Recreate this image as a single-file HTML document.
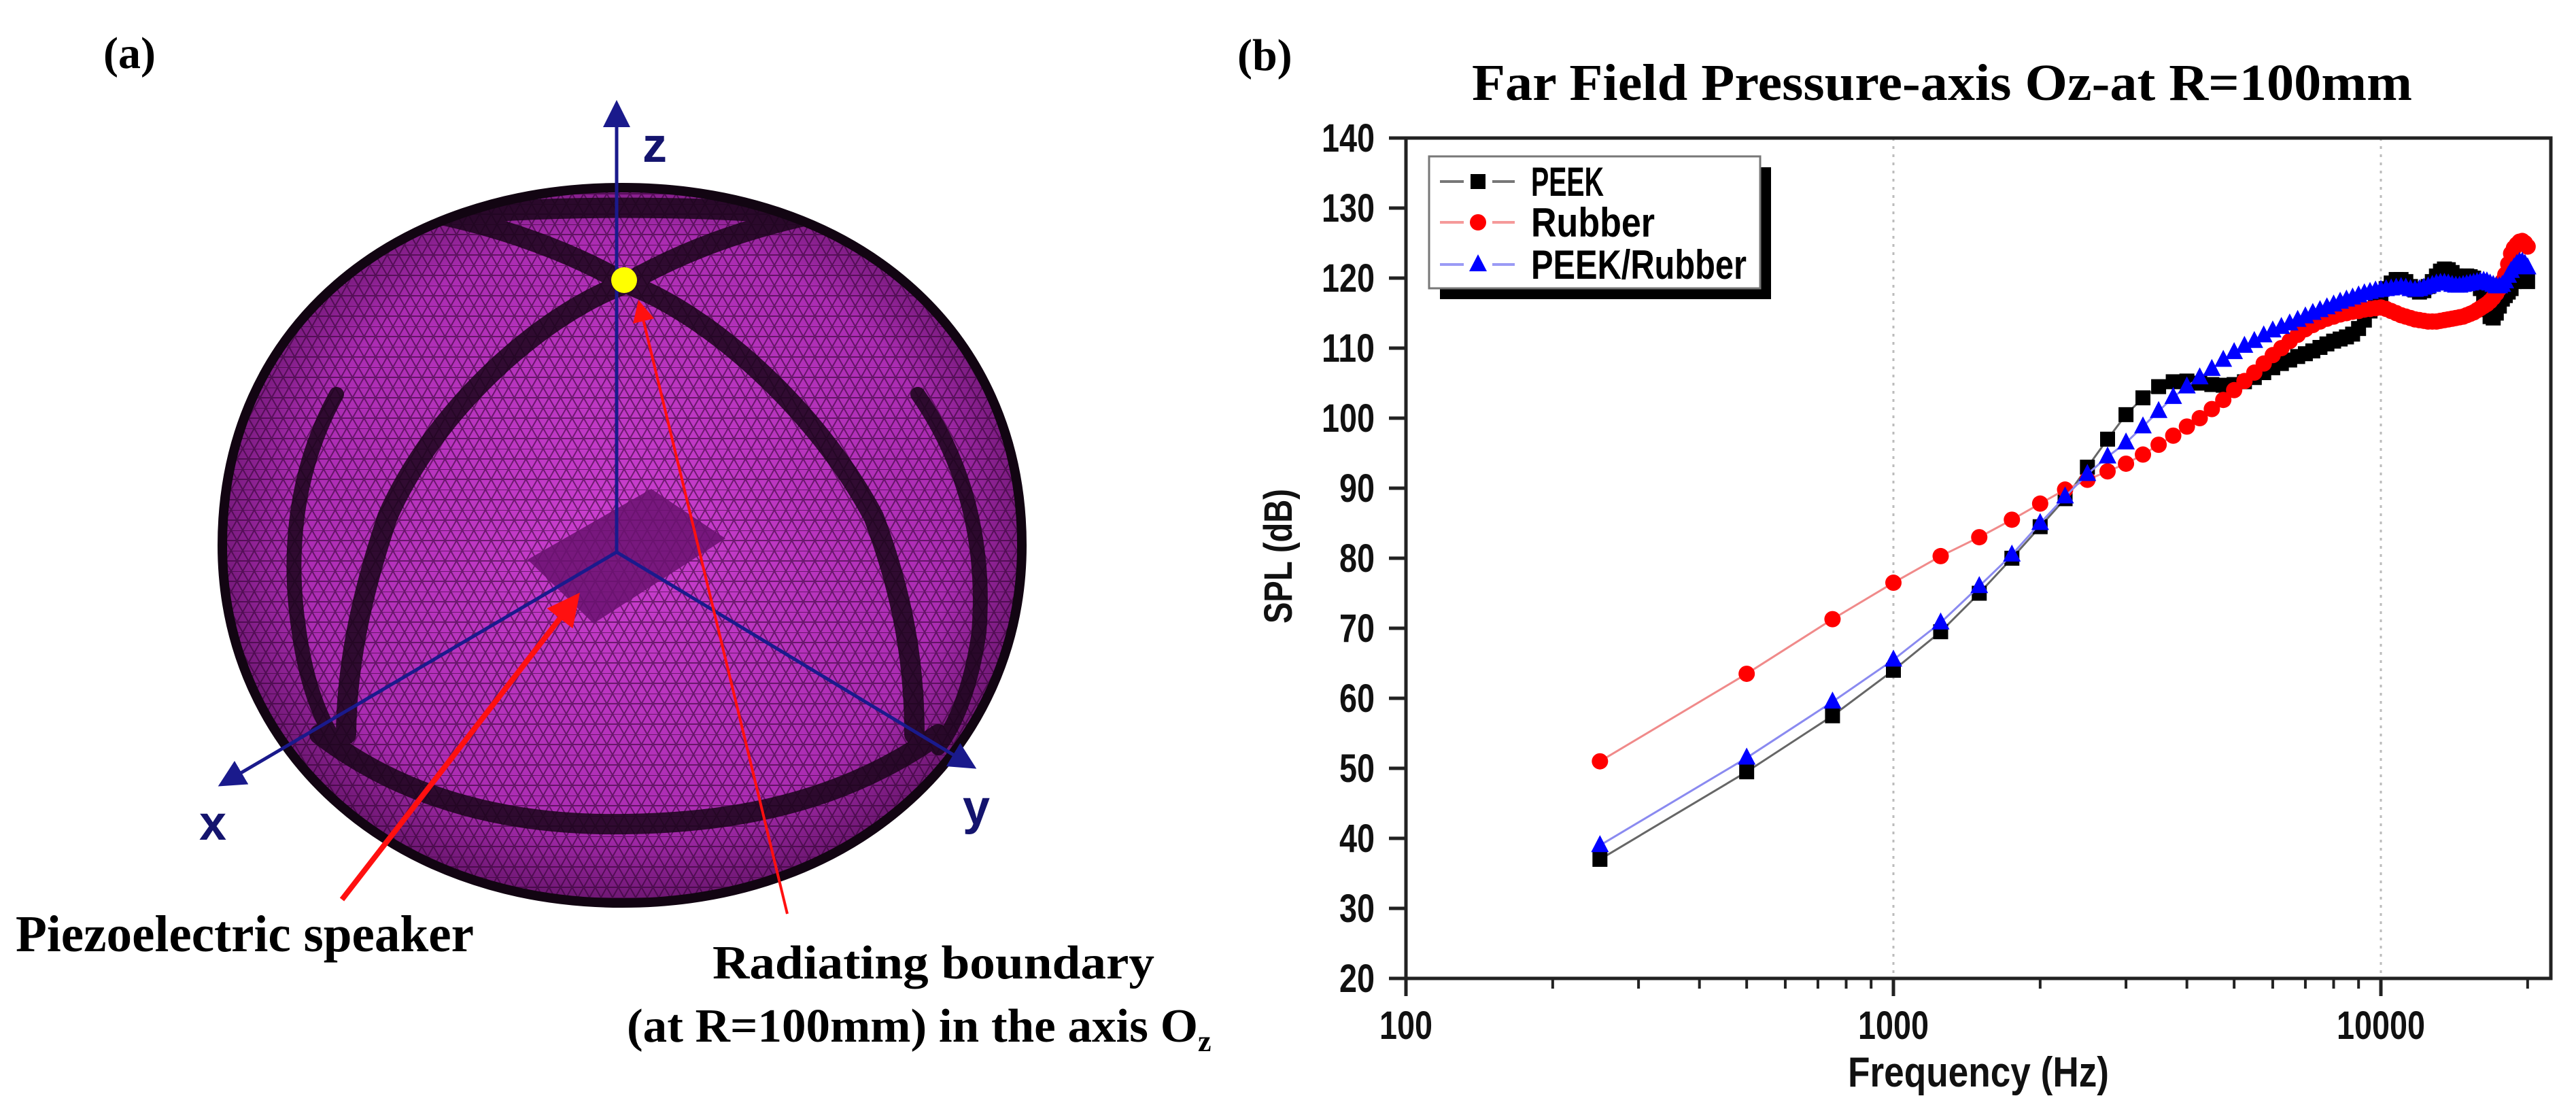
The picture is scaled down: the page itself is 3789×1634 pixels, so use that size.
<!DOCTYPE html>
<html><head><meta charset="utf-8"><style>
html,body{margin:0;padding:0;background:#fff;}
svg{display:block;}
.serif{font-family:"Liberation Serif",serif;font-weight:bold;}
.narrow{font-family:"Liberation Sans Narrow","Liberation Sans",sans-serif;font-weight:bold;}
</style></head><body>
<svg id="fig" width="3789" height="1634" viewBox="0 0 3789 1634" xmlns="http://www.w3.org/2000/svg">
<defs>
<pattern id="mesh" width="34" height="30" patternUnits="userSpaceOnUse">
<path d="M0 0 L34 0 M0 15 L34 15 M0 0 L17 30 M17 0 L34 30 M17 0 L0 30 M34 0 L17 30" stroke="#2a002a" stroke-width="2" opacity="0.55" fill="none"/>
</pattern>
<radialGradient id="sph" cx="0.5" cy="0.48" r="0.55">
<stop offset="0" stop-color="#cc40d0"/><stop offset="0.75" stop-color="#ab2cb2"/><stop offset="1" stop-color="#5a105e"/>
</radialGradient>
<clipPath id="sphClip"><path d="M915,276 C1250,276 1503,480 1503,802 C1503,1100 1260,1328 915,1328 C570,1328 327,1100 327,802 C327,480 580,276 915,276 Z"/></clipPath>
<marker id="ahBlue" markerWidth="8" markerHeight="8" refX="7" refY="4" orient="auto" markerUnits="strokeWidth"><path d="M0,0 L8,4 L0,8 Z" fill="#1a1a8c"/></marker>
<marker id="ahRed" markerWidth="6" markerHeight="6" refX="5" refY="3" orient="auto" markerUnits="strokeWidth"><path d="M0,0 L6,3 L0,6 Z" fill="#ff1010"/></marker>
<marker id="ahRed2" markerWidth="8" markerHeight="8" refX="7" refY="4" orient="auto" markerUnits="strokeWidth"><path d="M0,0 L8,4 L0,8 Z" fill="#ff1010"/></marker>
</defs>

<!-- Panel (a) -->
<g>
<text x="152" y="100" class="serif" font-size="66">(a)</text>
<g>
<path d="M915,276 C1250,276 1503,480 1503,802 C1503,1100 1260,1328 915,1328 C570,1328 327,1100 327,802 C327,480 580,276 915,276 Z" fill="url(#sph)"/>
<path d="M915,276 C1250,276 1503,480 1503,802 C1503,1100 1260,1328 915,1328 C570,1328 327,1100 327,802 C327,480 580,276 915,276 Z" fill="url(#mesh)"/>
<g fill="none" stroke="#1a051a" stroke-width="30" opacity="0.85" stroke-linecap="round" clip-path="url(#sphClip)">
<path d="M921,417 C800,460 640,600 570,760 C530,880 510,980 509,1080"/>
<path d="M921,417 C1040,460 1200,600 1285,760 C1330,880 1345,980 1345,1080"/>
<path d="M921,417 C820,360 700,320 560,300"/>
<path d="M921,417 C1020,360 1140,320 1280,300"/>
<path d="M470,1080 C600,1180 760,1215 921,1212 C1080,1210 1240,1180 1380,1080"/>
<path d="M495,580 C440,680 420,800 440,930 C450,1000 470,1060 500,1100" stroke-width="22"/>
<path d="M1350,580 C1420,680 1450,800 1440,930 C1430,1000 1410,1060 1380,1100" stroke-width="22"/>
<path d="M560,330 C700,300 1100,295 1280,330" stroke-width="30"/>
</g>
<path d="M915,276 C1250,276 1503,480 1503,802 C1503,1100 1260,1328 915,1328 C570,1328 327,1100 327,802 C327,480 580,276 915,276 Z" fill="none" stroke="#120512" stroke-width="14"/>
<polygon points="776,823 958,719 1067,792 873,917" fill="#6a1270" opacity="0.85"/>
</g>
<g stroke="#1a1a8c" stroke-width="5" fill="none">
<line x1="907" y1="812" x2="907" y2="152" marker-end="url(#ahBlue)"/>
<line x1="907" y1="812" x2="325" y2="1154" marker-end="url(#ahBlue)"/>
<line x1="907" y1="812" x2="1432" y2="1128" marker-end="url(#ahBlue)"/>
</g>
<text x="945" y="238" font-family="Liberation Sans, sans-serif" font-weight="bold" font-size="72" fill="#14146e">z</text>
<text x="313" y="1235" text-anchor="middle" font-family="Liberation Sans, sans-serif" font-weight="bold" font-size="72" fill="#14146e">x</text>
<text x="1436" y="1212" text-anchor="middle" font-family="Liberation Sans, sans-serif" font-weight="bold" font-size="72" fill="#14146e">y</text>
<circle cx="918" cy="412" r="19" fill="#ffff00"/>
<line x1="503" y1="1323" x2="848" y2="878" stroke="#ff1010" stroke-width="8" marker-end="url(#ahRed)"/>
<line x1="1158" y1="1344" x2="940" y2="445" stroke="#ff1010" stroke-width="4" marker-end="url(#ahRed2)"/>
<text x="23" y="1399" class="serif" font-size="76" textLength="674" lengthAdjust="spacingAndGlyphs">Piezoelectric speaker</text>
<text x="1048" y="1439" class="serif" font-size="70" textLength="650" lengthAdjust="spacingAndGlyphs">Radiating boundary</text>
<text x="922" y="1532" class="serif" font-size="70"><tspan textLength="840" lengthAdjust="spacingAndGlyphs">(at R=100mm) in the axis O</tspan><tspan font-size="44" dy="14">z</tspan></text>
</g>

<!-- Panel (b) -->
<g id="chart">
<text x="1820" y="103" class="serif" font-size="66">(b)</text>
<text x="2165" y="147" class="serif" font-size="76" textLength="1383" lengthAdjust="spacingAndGlyphs">Far Field  Pressure-axis Oz-at R=100mm</text>
</g>
</svg>
<script>
const freqs = [250,500,750,1000,1250,1500,1750,2000,2250,2500,2750,3000,3250,3500,3750,4000,4250,4500,4750,5000,5250,5500,5750,6000,6250,6500,6750,7000,7250,7500,7750,8000,8250,8500,8750,9000,9250,9500,9750,10000,10250,10500,10750,11000,11250,11500,11750,12000,12250,12500,12750,13000,13250,13500,13750,14000,14250,14500,14750,15000,15250,15500,15750,16000,16250,16500,16750,17000,17250,17500,17750,18000,18250,18500,18750,19000,19250,19500,19750,20000];
const peek = [37,49.5,57.5,64,69.5,75,80,84.5,88.5,93,97,100.5,102.9,104.5,105.2,105.3,105,104.8,104.7,104.8,105.2,105.8,106.5,107.2,107.8,108.3,108.8,109.2,109.6,110.1,110.6,111,111.3,111.6,112,112.8,114,115.3,116.5,117.5,118.5,119.3,119.8,119.8,119.5,118.8,118.3,118,118.2,118.8,119.5,120.3,121,121.3,121.2,120.8,120.3,120.2,120.3,120.3,120.2,120,119.5,118.5,117,115.5,114.5,114.3,115,116,117,117.5,118,118.5,119.5,120.5,121,120.8,120.2,119.5];
const rubber = [51,63.5,71.3,76.5,80.3,83,85.5,87.8,89.8,91.2,92.4,93.5,94.8,96.2,97.5,98.8,100,101.3,102.6,104,105.3,106.5,107.8,109,110,111,111.9,112.7,113.3,113.8,114.2,114.5,114.8,115,115.2,115.3,115.5,115.6,115.7,115.8,115.6,115.3,115,114.7,114.5,114.3,114.1,114,113.9,113.8,113.8,113.8,113.9,114,114.1,114.2,114.3,114.4,114.5,114.7,114.9,115.1,115.4,115.7,116,116.3,116.7,117.2,117.8,118.5,119.5,120.5,122,123.5,124.3,124.8,125.2,125.3,125,124.5];
const peekRubber = [39,51.5,59.5,65.5,70.8,76,80.5,85,88.8,92,94.5,96.5,98.8,101,103,104.5,105.8,107,108.3,109.4,110.3,111,111.8,112.5,113,113.5,114,114.5,115,115.4,115.8,116.2,116.6,116.9,117.2,117.5,117.8,118,118.2,118.3,118.4,118.5,118.6,118.7,118.6,118.4,118.3,118.4,118.6,118.8,119,119.2,119.3,119.3,119.2,119,118.9,118.9,119,119.1,119.2,119.3,119.4,119.5,119.6,119.5,119.2,119,118.8,118.8,119,119.5,120.3,121,121.5,122,122.3,122.3,122,121.5];
const yTicks = [20,30,40,50,60,70,80,90,100,110,120,130,140];
const xMajor = [100,1000,10000];
const xMajorLabels = ["100","1000","10000"];
const xMinor = [200,300,400,500,600,700,800,900,2000,3000,4000,5000,6000,7000,8000,9000,20000];
const seriesNames = ["PEEK","Rubber","PEEK/Rubber"];

const NS = "http://www.w3.org/2000/svg";
const chart = document.getElementById('chart');
const L = 2068, R = 3752, T = 203, B = 1439;
const decade = 717;
function xs(f){ return L + (Math.log10(f) - 2) * decade; }
function ys(v){ return B - (v - 20) * (B - T) / 120; }
function mk(tag, attrs, parent){
  const e = document.createElementNS(NS, tag);
  for (const k in attrs) e.setAttribute(k, attrs[k]);
  (parent || chart).appendChild(e);
  return e;
}

xMajor.slice(1).forEach(f => {
  const g = mk('line', {x1: xs(f), x2: xs(f), y1: T, y2: B, stroke: '#bbb', 'stroke-width': 3, 'stroke-dasharray': '4 8'});
  
  
});
const frame = mk('rect', {x: L, y: T, width: R - L, height: B - T, fill: 'none', stroke: '#222', 'stroke-width': 5});



yTicks.forEach(v => {
  const t = mk('line', {x1: 2043, x2: L, y1: ys(v), y2: ys(v), stroke: '#222', 'stroke-width': 5});
  
  
  const s = String(v);
  const lb = mk('text', {x: 2022, y: ys(v) + 20, 'text-anchor': 'end', 'font-size': 58, class: 'narrow', fill: '#111', textLength: s.length * 26, lengthAdjust: 'spacingAndGlyphs'});
  lb.textContent = s;
  
  
});
xMajor.forEach((f, i) => {
  const t = mk('line', {x1: xs(f), x2: xs(f), y1: B, y2: 1465, stroke: '#222', 'stroke-width': 5});
  
  
  const s = xMajorLabels[i];
  const lb = mk('text', {x: xs(f), y: 1528, 'text-anchor': 'middle', 'font-size': 58, class: 'narrow', fill: '#111', textLength: s.length * 26, lengthAdjust: 'spacingAndGlyphs'});
  lb.textContent = s;
  
  
});
xMinor.forEach(f => {
  const t = mk('line', {x1: xs(f), x2: xs(f), y1: B, y2: 1454, stroke: '#222', 'stroke-width': 4});
  
  
});
const xt = mk('text', {x: 2910, y: 1598, 'text-anchor': 'middle', 'font-size': 62, class: 'narrow', fill: '#111', textLength: 384, lengthAdjust: 'spacingAndGlyphs'});
xt.textContent = 'Frequency (Hz)';


const yt = mk('text', {x: 0, y: 0, 'text-anchor': 'middle', 'font-size': 58, class: 'narrow', fill: '#111', transform: 'translate(1900,818) rotate(-90)', textLength: 198, lengthAdjust: 'spacingAndGlyphs'});
yt.textContent = 'SPL (dB)';



function marker(kind, x, y, color, parent){
  let e;
  if (kind === 'square') e = mk('rect', {x: x - 11, y: y - 11, width: 22, height: 22, fill: color}, parent);
  else if (kind === 'circle') e = mk('circle', {cx: x, cy: y, r: 12, fill: color}, parent);
  else e = mk('polygon', {points: `${x},${y - 15} ${x - 13},${y + 10} ${x + 13},${y + 10}`, fill: color}, parent);
  return e;
}
function series(vals, lineColor, color, kind, name){
  const g = mk('g', {});
  
  
  const pts = freqs.map((f, i) => xs(f) + ',' + ys(vals[i])).join(' ');
  const pl = mk('polyline', {points: pts, fill: 'none', stroke: lineColor, 'stroke-width': 3}, g);
  
  
  freqs.forEach((f, i) => {
    const m = marker(kind, xs(f), ys(vals[i]), color, g);
    
    
  });
}
series(peek, '#666', '#000', 'square', 'peek');
series(rubber, '#f08a8a', '#ff0000', 'circle', 'rubber');
series(peekRubber, '#8a8af0', '#0000ff', 'triangle', 'peek-rubber');

const lg = mk('g', {});


mk('rect', {x: 2118, y: 246, width: 487, height: 194, fill: '#000'}, lg);
mk('rect', {x: 2102, y: 230, width: 487, height: 194, fill: '#fff', stroke: '#777', 'stroke-width': 3}, lg);
const legColors = [['#777', '#000', 'square'], ['#f59a9a', '#ff0000', 'circle'], ['#9a9af5', '#0000ff', 'triangle']];
const legY = [267, 327, 389];
const legW = [107, 182, 317];
seriesNames.forEach((n, i) => {
  const e = mk('g', {}, lg);
  
  
  mk('line', {x1: 2118, x2: 2153, y1: legY[i], y2: legY[i], stroke: legColors[i][0], 'stroke-width': 4}, e);
  mk('line', {x1: 2195, x2: 2228, y1: legY[i], y2: legY[i], stroke: legColors[i][0], 'stroke-width': 4}, e);
  marker(legColors[i][2], 2174, legY[i], legColors[i][1], e);
  const t = mk('text', {x: 2252, y: legY[i] + 21, 'font-size': 60, class: 'narrow', fill: '#000', textLength: legW[i], lengthAdjust: 'spacingAndGlyphs'}, e);
  t.textContent = n;
});
</script>
</body></html>
